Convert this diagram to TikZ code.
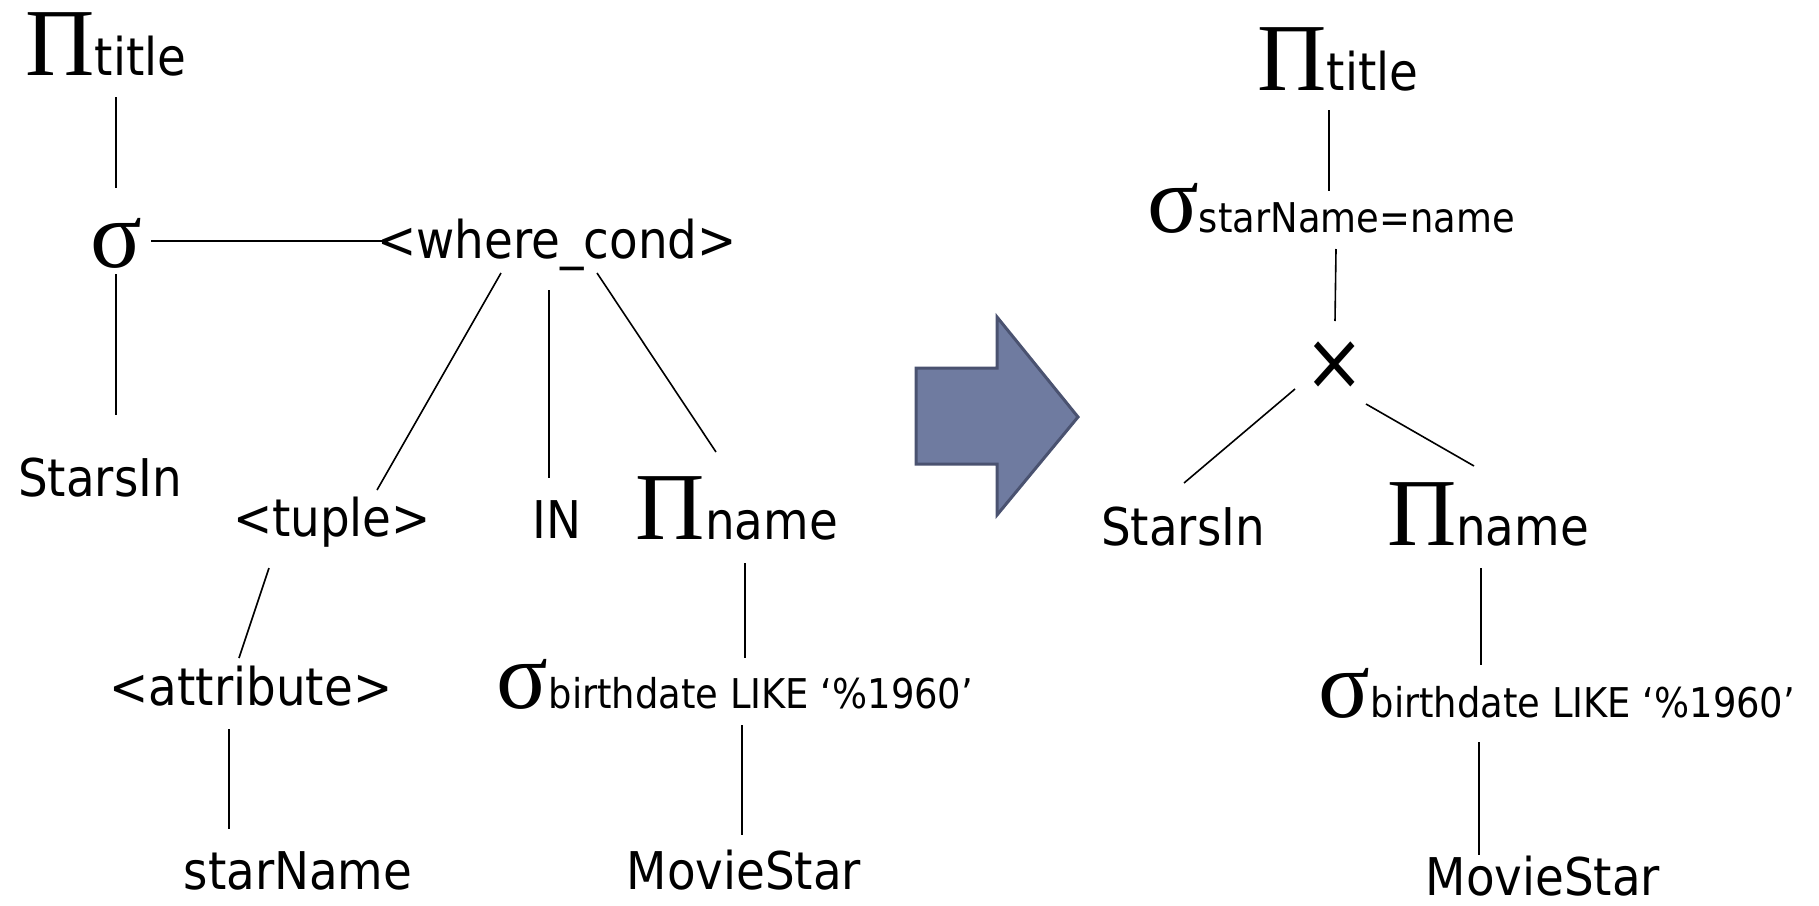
\documentclass[tikz,border=0pt]{standalone}
\usepackage{fontspec}
\setmainfont{DejaVu Sans Condensed}
\newfontfamily\grk{Liberation Serif}
\usepackage{tikz}
\definecolor{arrowfill}{HTML}{6F7BA0}
\definecolor{arrowline}{HTML}{4A5270}
\newcommand{\relPi}{{\grk\fontsize{96}{100}\selectfont Π}}
\newcommand{\relSig}{{\grk\fontsize{96}{100}\selectfont σ}}
\newcommand{\cond}[1]{{\fontsize{41}{48}\selectfont #1}}
\tikzset{
  lbl/.style ={anchor=base, inner sep=0pt, font=\fontsize{52}{60}\selectfont},
  edge/.style={line width=1.6pt},
  bigarrow/.style={fill=arrowfill, draw=arrowline, line width=3pt, line join=miter}
}

\begin{document}
\begin{tikzpicture}[x=1pt,y=1pt]
\useasboundingbox (0,0) rectangle (1819,-905);
% left tree
\node[lbl] (ptL)  at (106,-75)  {\relPi title};
\node[lbl] (sigL) at (116,-267) {\relSig};
\node[lbl] (wcL)  at (557,-258) {<where\_cond>};
\node[lbl] (siL)  at (100,-496) {StarsIn};
\node[lbl] (tupL) at (332,-536) {<tuple>};
\node[lbl] (inL)  at (557,-538) {IN};
\node[lbl] (pnL)  at (737,-539) {\relPi name};
\node[lbl] (attL) at (251,-705) {<attribute>};
\node[lbl] (sbL)  at (735,-708) {\relSig\cond{birthdate LIKE ‘\%1960’}};
\node[lbl] (snL)  at (298,-889) {starName};
\node[lbl] (msL)  at (744,-889) {MovieStar};

\draw[edge] ([shift={(10,-22)}]ptL.base)   -- ([shift={(0,79)}]sigL.base);
\draw[edge] ([shift={(35,26)}]sigL.base)   -- ([shift={(-174,17)}]wcL.base);
\draw[edge] ([shift={(0,-7)}]sigL.base)    -- ([shift={(16,81)}]siL.base);
\draw[edge] ([shift={(-56,-15)}]wcL.base)  -- ([shift={(45,46)}]tupL.base);
\draw[edge] ([shift={(-8,-32)}]wcL.base)   -- ([shift={(-8,60)}]inL.base);
\draw[edge] ([shift={(40,-15)}]wcL.base)   -- ([shift={(-21,87)}]pnL.base);
\draw[edge] ([shift={(-63,-32)}]tupL.base) -- ([shift={(-12,47)}]attL.base);
\draw[edge] ([shift={(-22,-24)}]attL.base) -- ([shift={(-69,60)}]snL.base);
\draw[edge] ([shift={(8,-24)}]pnL.base)    -- ([shift={(10,50)}]sbL.base);
\draw[edge] ([shift={(7,-17)}]sbL.base)    -- ([shift={(-2,54)}]msL.base);

% the rewrite arrow
\draw[bigarrow] (916,-368) -- (997,-368) -- (997,-317) -- (1078,-417)
  -- (997,-515) -- (997,-464) -- (916,-464) -- cycle;

% right tree
\node[lbl] (ptR) at (1338,-90)  {\relPi title};
\node[lbl] (ssR) at (1331,-232) {\relSig\cond{starName=name}};
\node[inner sep=0pt, font=\fontsize{80}{90}\selectfont] (xR) at (1335,-366) {×};
\node[lbl] (siR) at (1183,-545) {StarsIn};
\node[lbl] (pnR) at (1488,-545) {\relPi name};
\node[lbl] (sbR) at (1557,-717) {\relSig\cond{birthdate LIKE ‘\%1960’}};
\node[lbl] (msR) at (1543,-895) {MovieStar};

\draw[edge] ([shift={(-9,-20)}]ptR.base)  -- ([shift={(-2,41)}]ssR.base);
\draw[edge] ([shift={(5,-17)}]ssR.base)   -- ([shift={(0,45)}]xR.center);
\draw[edge] ([shift={(-40,-23)}]xR.center) -- ([shift={(1,62)}]siR.base);
\draw[edge] ([shift={(31,-38)}]xR.center)  -- ([shift={(-14,79)}]pnR.base);
\draw[edge] ([shift={(-7,-23)}]pnR.base)  -- ([shift={(-76,52)}]sbR.base);
\draw[edge] ([shift={(-78,-25)}]sbR.base) -- ([shift={(-64,40)}]msR.base);
\end{tikzpicture}
\end{document}
